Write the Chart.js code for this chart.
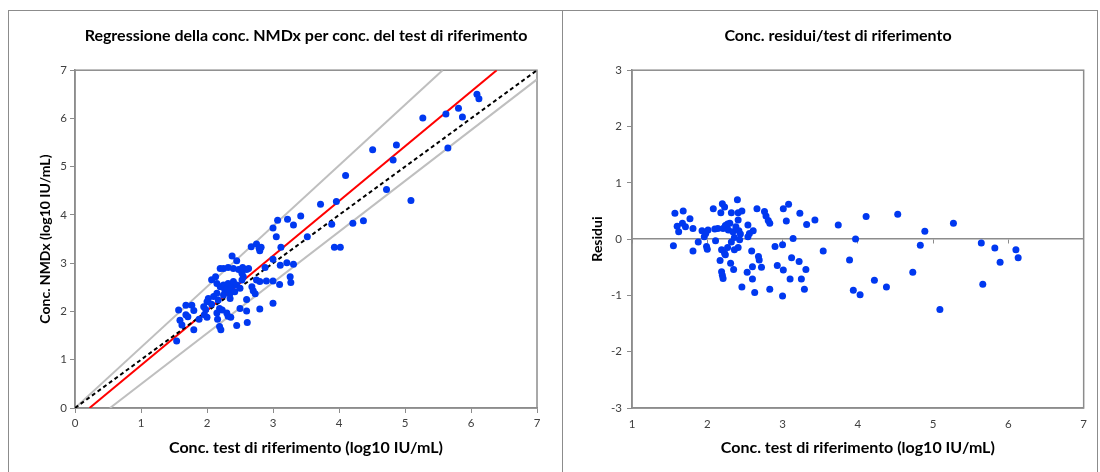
<!DOCTYPE html>
<html>
<head>
<meta charset="utf-8">
<script src="https://cdn.jsdelivr.net/npm/chart.js@4.4.1/dist/chart.umd.min.js"></script>
<style>
  html, body { margin: 0; padding: 0; background: #fff; }
  body { width: 1100px; height: 472px; position: relative; overflow: hidden; }
  .panel { position: absolute; top: 10px; height: 490px; border: 1px solid #8c8c8c; box-sizing: border-box; }
  #leftPanel { left: 8px; width: 555px; }
  #rightPanel { left: 562px; width: 536px; }
  canvas { position: absolute; top: 11px; }
  #leftChart { left: 10px; }
  #rightChart { left: 564px; }
</style>
</head>
<body>
<div class="panel" id="leftPanel"></div>
<div class="panel" id="rightPanel"></div>
<canvas id="leftChart" width="550" height="461"></canvas>
<canvas id="rightChart" width="532" height="461"></canvas>
<script>
// values (log10 IU/mL)

// left panel: reference test vs NMDx
const refConc = [
  6.09, 6.12, 5.81, 5.87, 5.62, 5.27, 5.65, 4.87, 4.51, 4.82, 4.10, 4.72, 5.09, 3.72, 3.96, 3.42, 3.89, 4.21, 4.37, 3.52, 3.93, 4.02,
  3.00, 3.07, 3.22, 3.31, 3.05,
  3.12, 2.67, 2.75, 2.79, 2.82, 2.80, 3.00, 2.38, 2.45, 3.11, 3.21, 3.31, 2.88,
  2.20, 2.25, 2.32, 2.40, 2.48, 2.54, 2.63,
  2.07, 2.13, 2.75, 2.80, 2.90, 3.00, 3.10, 3.26, 3.27,
  2.68, 2.70, 2.73, 2.60, 3.00,
  2.15, 2.20, 2.25, 2.27, 2.30, 2.32, 2.35, 2.37, 2.40, 2.42, 2.45, 2.50, 2.53, 2.55, 2.35, 2.25, 2.15, 2.10, 2.02, 2.00,
  1.57, 1.68, 1.77, 1.80, 1.68, 1.71, 1.59, 1.62, 1.88, 1.95, 1.98, 1.96, 2.00, 2.07, 2.15, 2.19, 2.23, 2.16, 2.19, 2.21,
  2.30, 2.32, 2.36, 2.50, 2.60, 2.45, 2.61, 2.80, 1.80, 1.54, 2.53, 2.60, 2.17
];
const nmdxConc = [
  6.50, 6.41, 6.21, 6.03, 6.09, 6.01, 5.39, 5.45, 5.35, 5.14, 4.82, 4.53, 4.30, 4.22, 4.28, 3.98, 3.81, 3.83, 3.88, 3.55, 3.33, 3.33,
  3.73, 3.89, 3.91, 3.79, 3.55,
  3.33, 3.34, 3.40, 3.31, 3.33, 3.26, 3.08, 3.15, 3.05, 2.96, 3.01, 2.98, 2.91,
  2.89, 2.89, 2.91, 2.89, 2.87, 2.91, 2.89,
  2.66, 2.72, 2.65, 2.62, 2.63, 2.63, 2.56, 2.72, 2.60,
  2.51, 2.43, 2.37, 2.25, 2.17,
  2.58, 2.51, 2.55, 2.44, 2.48, 2.58, 2.38, 2.51, 2.62, 2.41, 2.55, 2.48, 2.65, 2.72, 2.27, 2.34, 2.38, 2.31, 2.27, 2.20,
  2.03, 2.13, 2.13, 2.02, 1.93, 1.89, 1.82, 1.72, 1.84, 2.10, 2.04, 1.93, 1.88, 2.15, 1.97, 2.06, 2.03, 1.84, 1.69, 1.62,
  1.97, 1.90, 1.88, 2.06, 2.01, 1.71, 1.77, 2.05, 1.62, 1.39, 2.79, 2.87, 2.24
];

// lines on the left panel
const identityX = [0, 7];
const identityY = [0, 7];
const regressionX = [0.22, 6.39];
const regressionY = [0, 7];
const upperX = [0, 5.57];
const upperY = [0, 7];
const lowerX = [0.53, 7];
const lowerY = [0, 6.81];

// right panel: residuals
const resRefConc = [
  1.55, 1.57, 1.60, 1.62, 1.68, 1.67, 1.71, 1.77, 1.81, 1.81, 1.88, 1.93, 1.96, 1.98, 1.99, 2.00, 2.01, 2.08, 2.10, 2.11,
  2.14, 2.18, 2.17, 2.19, 2.20, 2.21, 2.23, 2.23, 2.24, 2.19, 2.20, 2.21, 2.24, 2.27, 2.27, 2.28, 2.30, 2.31, 2.32, 2.32,
  2.34, 2.35, 2.36, 2.36, 2.38, 2.40, 2.41, 2.41, 2.41, 2.42, 2.43, 2.44, 2.46, 2.46, 2.53, 2.54, 2.54, 2.56, 2.59, 2.60,
  2.60, 2.61, 2.63, 2.66, 2.68, 2.69, 2.72, 2.76, 2.78, 2.81, 2.83, 2.83, 2.90, 2.93, 3.00, 3.01, 3.01, 3.00, 3.05, 3.08,
  3.10, 3.12, 3.14, 3.22, 3.23, 3.25, 3.29, 3.31, 3.32, 3.43, 3.54, 3.74, 3.89, 4.11, 4.53, 3.97, 4.89, 5.27, 4.83, 5.64,
  5.82, 6.10, 6.13, 5.89, 4.73, 4.22, 4.38, 5.66, 3.94, 4.03, 5.09
];
const residuals = [
  -0.12, 0.46, 0.23, 0.13, 0.50, 0.28, 0.22, 0.36, 0.19, -0.21, -0.05, 0.15, 0.04, 0.10, -0.13, -0.18, 0.16, 0.54, 0.18, -0.03,
  0.19, 0.47, -0.38, -0.19, 0.63, 0.19, 0.57, -0.25, 0.24, -0.58, -0.64, -0.70, -0.28, 0.27, -0.15, 0.16, 0.28, -0.43, 0.47, -0.05,
  0.13, -0.54, 0.03, -0.19, 0.22, 0.70, 0.47, 0.34, -0.15, 0.15, -0.01, 0.09, 0.50, -0.85, -0.59, 0.25, 0.04, 0.10, -0.21, -0.49,
  -0.71, 0.15, -0.95, 0.54, -0.31, -0.37, -0.50, 0.49, 0.41, 0.33, 0.28, -0.89, -0.13, -0.47, -0.10, 0.54, -0.55, -1.01, 0.32, 0.62,
  -0.71, -0.33, 0.01, -0.40, 0.46, -0.71, -0.89, -0.54, 0.26, 0.34, -0.21, 0.25, -0.37, 0.40, 0.44, 0.00, 0.14, 0.28, -0.11, -0.07,
  -0.16, -0.19, -0.33, -0.41, -0.59, -0.73, -0.85, -0.80, -0.91, -0.99, -1.25
];

const xTicksLeft = [0, 1, 2, 3, 4, 5, 6, 7];
const yTicksLeft = [0, 1, 2, 3, 4, 5, 6, 7];
const xTicksRight = [1, 2, 3, 4, 5, 6, 7];
const yTicksRight = [-3, -2, -1, 0, 1, 2, 3];

const FONT = 'Lato, "Open Sans", sans-serif';
const BLUE = '#0038f0';
const AXIS = '#8c8c8c';
const TICK_TXT = '#404040';

const pairs = (xs, ys) => xs.map((x, i) => ({ x: x, y: ys[i] }));

// gray box round the plot area
const frame = {
  id: 'frame',
  beforeDatasetsDraw(chart) {
    const a = chart.chartArea;
    const ctx = chart.ctx;
    ctx.save();
    ctx.strokeStyle = AXIS;
    ctx.lineWidth = 1.5;
    ctx.strokeRect(a.left, a.top, a.right - a.left, a.bottom - a.top);
    ctx.restore();
  }
};

const tickFont = { family: FONT, size: 11.5 };
const titleFont = { family: FONT, size: 16, weight: 'bold' };   // horizontal titles
const sideFont = { family: FONT, size: 14, weight: 'bold' };    // rotated y titles

const lineSet = (label, xs, ys, color, dash, order) => ({
  label: label,
  data: pairs(xs, ys),
  showLine: true,
  borderColor: color,
  borderWidth: 2,
  borderDash: dash,
  pointRadius: 0,
  fill: false,
  order: order
});

new Chart(document.getElementById('leftChart'), {
  type: 'scatter',
  data: {
    datasets: [
      { label: 'Campioni', data: pairs(refConc, nmdxConc), backgroundColor: BLUE, borderColor: BLUE,
        pointRadius: 3.5, pointBorderWidth: 0, order: 0 },
      lineSet('Identità', identityX, identityY, '#000000', [4, 3], 1),
      lineSet('Regressione', regressionX, regressionY, '#ff0000', [], 2),
      lineSet('Limite superiore', upperX, upperY, '#bfbfbf', [], 3),
      lineSet('Limite inferiore', lowerX, lowerY, '#bfbfbf', [], 3)
    ]
  },
  options: {
    responsive: false,
    animation: false,
    layout: { padding: { left: 20, right: 23, top: 0, bottom: 14 } },
    plugins: {
      legend: { display: false },
      tooltip: { enabled: false },
      title: {
        display: true,
        text: 'Regressione della conc. NMDx per conc. del test di riferimento',
        fullSize: false,
        color: '#000',
        font: titleFont,
        padding: { top: 15, bottom: 25 }
      }
    },
    scales: {
      x: {
        type: 'linear', min: 0, max: 7,
        afterBuildTicks(s) { s.ticks = xTicksLeft.map(v => ({ value: v })); },
        ticks: { color: TICK_TXT, font: tickFont, padding: 3 },
        grid: { drawOnChartArea: false, tickLength: 5, color: AXIS, lineWidth: 1 },
        border: { color: AXIS, width: 1.5 },
        title: { display: true, text: 'Conc. test di riferimento (log10 IU/mL)', color: '#000', font: titleFont, padding: { top: 0, bottom: 1 } },
        afterFit(s) { s.height = 50; }
      },
      y: {
        type: 'linear', min: 0, max: 7,
        afterBuildTicks(s) { s.ticks = yTicksLeft.map(v => ({ value: v })); },
        ticks: { color: TICK_TXT, font: tickFont, padding: 3 },
        grid: { drawOnChartArea: false, tickLength: 5, color: AXIS, lineWidth: 1 },
        border: { color: AXIS, width: 1.5 },
        title: { display: true, text: 'Conc. NMDx (log10 IU/mL)', color: '#000', font: sideFont, padding: { top: 7, bottom: 0 } },
        afterFit(s) { s.width = 45; }
      }
    }
  },
  plugins: [frame]
});

new Chart(document.getElementById('rightChart'), {
  type: 'scatter',
  data: {
    datasets: [
      { label: 'Residui', data: pairs(resRefConc, residuals), backgroundColor: BLUE, borderColor: BLUE,
        pointRadius: 3.5, pointBorderWidth: 0 }
    ]
  },
  options: {
    responsive: false,
    animation: false,
    layout: { padding: { left: 24, right: 8, top: 0, bottom: 14 } },
    plugins: {
      legend: { display: false },
      tooltip: { enabled: false },
      title: {
        display: true,
        text: 'Conc. residui/test di riferimento',
        color: '#000',
        font: titleFont,
        padding: { top: 15, bottom: 25 }
      }
    },
    scales: {
      x: {
        type: 'linear', min: 1, max: 7,
        afterBuildTicks(s) { s.ticks = xTicksRight.map(v => ({ value: v })); },
        ticks: { color: TICK_TXT, font: tickFont, padding: 9 },
        grid: { drawOnChartArea: false, drawTicks: false },
        border: { color: AXIS, width: 1.5 },
        title: { display: true, text: 'Conc. test di riferimento (log10 IU/mL)', color: '#000', font: titleFont, padding: { top: 0, bottom: 1 } },
        afterFit(s) { s.height = 50; }
      },
      zero: {
        type: 'linear', axis: 'x', min: 1, max: 7,
        position: { y: 0 },
        afterBuildTicks(s) { s.ticks = xTicksRight.map(v => ({ value: v })); },
        ticks: { display: false },
        grid: { drawOnChartArea: false, tickLength: 4, color: AXIS, lineWidth: 1 },
        border: { color: AXIS, width: 1.5 }
      },
      y: {
        type: 'linear', min: -3, max: 3,
        afterBuildTicks(s) { s.ticks = yTicksRight.map(v => ({ value: v })); },
        ticks: { color: TICK_TXT, font: tickFont, padding: 5 },
        grid: { drawOnChartArea: false, tickLength: 5, color: AXIS, lineWidth: 1 },
        border: { color: AXIS, width: 1.5 },
        title: { display: true, text: 'Residui', color: '#000', font: sideFont, padding: { top: 1, bottom: 0 } },
        afterFit(s) { s.width = 44; }
      }
    }
  },
  plugins: [frame]
});
</script>
</body>
</html>
